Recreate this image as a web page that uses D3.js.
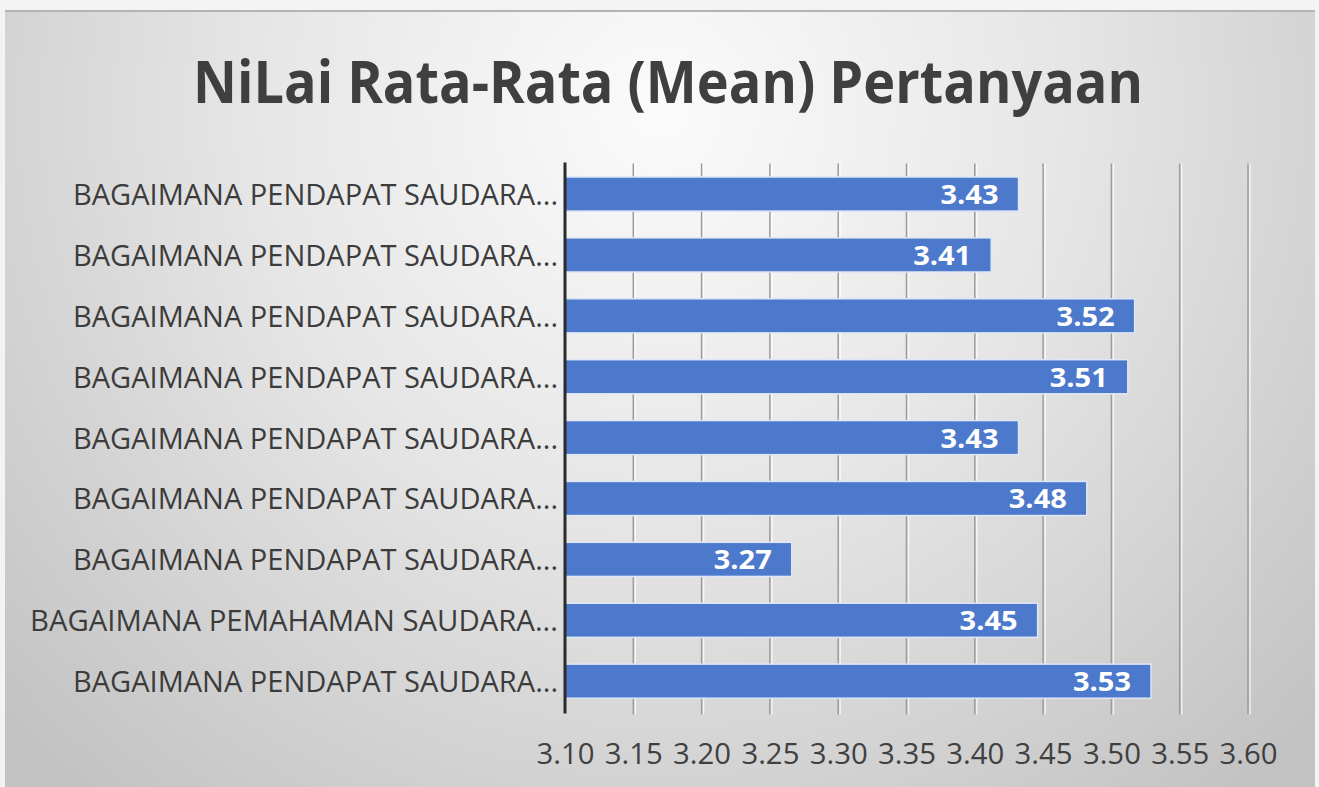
<!DOCTYPE html>
<html>
<head>
<meta charset="utf-8">
<script src="https://cdn.jsdelivr.net/npm/d3@7"></script>
<style>
  html, body { margin: 0; padding: 0; background: #f3f3f3; }
  svg { display: block; }
</style>
</head>
<body>
<svg id="chart" width="1319" height="787"></svg>
<script>
const title = "NiLai Rata-Rata (Mean) Pertanyaan";
const categories = [
  "BAGAIMANA PENDAPAT SAUDARA...",
  "BAGAIMANA PENDAPAT SAUDARA...",
  "BAGAIMANA PENDAPAT SAUDARA...",
  "BAGAIMANA PENDAPAT SAUDARA...",
  "BAGAIMANA PENDAPAT SAUDARA...",
  "BAGAIMANA PENDAPAT SAUDARA...",
  "BAGAIMANA PENDAPAT SAUDARA...",
  "BAGAIMANA PEMAHAMAN SAUDARA...",
  "BAGAIMANA PENDAPAT SAUDARA..."
];
const values = [3.432, 3.412, 3.517, 3.512, 3.432, 3.482, 3.266, 3.446, 3.529];
const xTicks = [3.10, 3.15, 3.20, 3.25, 3.30, 3.35, 3.40, 3.45, 3.50, 3.55, 3.60];

const svg = d3.select("#chart");
const W = 1319, H = 787;
const defs = svg.append("defs");
const grad = defs.append("radialGradient")
  .attr("id", "bg").attr("gradientUnits", "userSpaceOnUse")
  .attr("cx", 660).attr("cy", 110).attr("r", 900);
grad.append("stop").attr("offset", "0").attr("stop-color", "#fbfbfb");
grad.append("stop").attr("offset", "0.45").attr("stop-color", "#e6e6e6");
grad.append("stop").attr("offset", "1").attr("stop-color", "#c2c2c2");

svg.append("rect").attr("x", 0).attr("y", 0).attr("width", W).attr("height", H).attr("fill", "#f3f3f3");
svg.append("rect").attr("x", 5).attr("y", 10).attr("width", 1310).attr("height", H - 10).attr("fill", "url(#bg)");
svg.append("line").attr("x1", 5).attr("x2", 1315).attr("y1", 11).attr("y2", 11)
  .attr("stroke", "#b4b4b4").attr("stroke-width", 2);

const margin = { left: 565, right: 71, top: 163.6, bottom: 75.4 };
const x = d3.scaleLinear().domain([3.10, 3.60]).range([margin.left, W - margin.right]);
const y = d3.scaleBand().domain(d3.range(categories.length))
  .range([margin.top, H - margin.bottom]).paddingInner(0.44).paddingOuter(0.22);

const fontMain = "Open Sans, 'Noto Sans', sans-serif";

// Title
svg.append("text")
  .attr("x", 668).attr("y", 103)
  .attr("text-anchor", "middle")
  .attr("font-family", fontMain).attr("font-weight", "bold")
  .attr("font-size", 59).attr("fill", "#3f3f3f")
  .attr("textLength", 950).attr("lengthAdjust", "spacingAndGlyphs")
  .text(title);

// Gridlines
const grid = svg.append("g");
grid.selectAll("line.hl").data(xTicks.slice(1)).join("line")
  .attr("class", "hl")
  .attr("x1", d => x(d) + 2).attr("x2", d => x(d) + 2)
  .attr("y1", margin.top).attr("y2", H - margin.bottom + 3)
  .attr("stroke", "#ffffff").attr("stroke-opacity", 0.7).attr("stroke-width", 1.5);
grid.selectAll("line.gl").data(xTicks.slice(1)).join("line")
  .attr("class", "gl")
  .attr("x1", d => x(d)).attr("x2", d => x(d))
  .attr("y1", margin.top).attr("y2", H - margin.bottom + 3)
  .attr("stroke", "#9c9c9c").attr("stroke-width", 1.5);

// Bars
svg.append("g").selectAll("rect").data(values).join("rect")
  .attr("x", x(3.10))
  .attr("y", (d, i) => y(i))
  .attr("width", d => x(d) - x(3.10))
  .attr("height", y.bandwidth())
  .attr("fill", "#4c79cb")
  .attr("stroke", "#dde7f6").attr("stroke-width", 1.5);

// Data labels
svg.append("g").selectAll("text").data(values).join("text")
  .attr("x", d => x(d) - 20)
  .attr("y", (d, i) => y(i) + y.bandwidth() / 2 + 10)
  .attr("text-anchor", "end")
  .attr("font-family", fontMain).attr("font-weight", "bold")
  .attr("font-size", 27).attr("fill", "#ffffff")
  .attr("textLength", 58).attr("lengthAdjust", "spacingAndGlyphs")
  .text(d => d3.format(".2f")(d));

// Category labels
svg.append("g").selectAll("text").data(categories).join("text")
  .attr("x", 558)
  .attr("y", (d, i) => y(i) + y.bandwidth() / 2 + 11)
  .attr("text-anchor", "end")
  .attr("font-family", fontMain)
  .attr("font-size", 30).attr("fill", "#3c3c3c")
  .attr("textLength", d => d.indexOf("PEMAHAMAN") >= 0 ? 528 : 485)
  .attr("lengthAdjust", "spacingAndGlyphs")
  .text(d => d);

// Vertical axis line
svg.append("line")
  .attr("x1", x(3.10)).attr("x2", x(3.10))
  .attr("y1", margin.top - 1).attr("y2", H - margin.bottom + 2)
  .attr("stroke", "#2b2b2b").attr("stroke-width", 3);

// X axis tick labels
const xAxis = d3.axisBottom(x).tickValues(xTicks).tickSize(0).tickFormat(d3.format(".2f"));
const gx = svg.append("g").attr("transform", `translate(0, ${H - margin.bottom + 25})`).call(xAxis);
gx.select(".domain").remove();
gx.selectAll("text")
  .attr("font-family", fontMain).attr("font-size", 29).attr("fill", "#404040")
  .attr("dy", 0).attr("y", 27)
  .attr("textLength", 58).attr("lengthAdjust", "spacingAndGlyphs");
</script>
</body>
</html>
